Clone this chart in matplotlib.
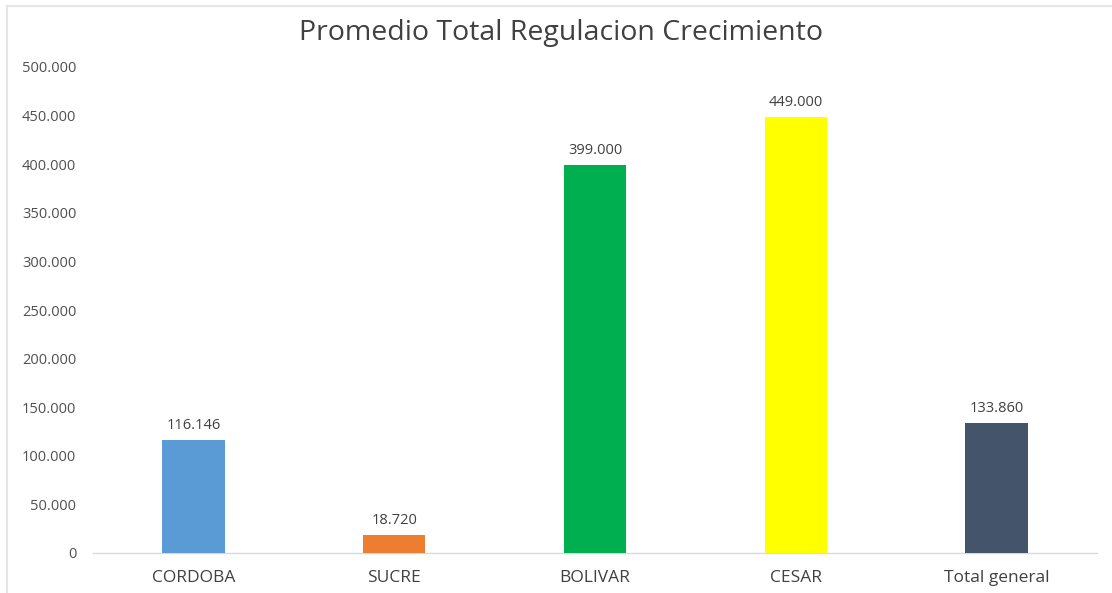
import matplotlib
matplotlib.use("Agg")
import matplotlib.pyplot as plt
from matplotlib.ticker import FuncFormatter
from matplotlib.lines import Line2D

categories = ["CORDOBA", "SUCRE", "BOLIVAR", "CESAR", "Total general"]
values = [116146, 18720, 399000, 449000, 133860]
labels = ["116.146", "18.720", "399.000", "449.000", "133.860"]
colors = ["#5B9BD5", "#ED7D31", "#00B050", "#FFFF00", "#44546A"]
yticks = list(range(0, 500001, 50000))

plt.rcParams['font.family'] = ['Open Sans', 'DejaVu Sans']

W, H = 1112, 593
fig = plt.figure(figsize=(W / 100, H / 100), dpi=100)
ax = fig.add_axes([93 / W, 1 - 553 / H, (1097 - 93) / W, (553 - 67) / H])

x = list(range(len(categories)))
ax.bar(x, values, width=0.31, color=colors, zorder=3)
ax.set_xlim(-0.5, len(categories) - 0.5)
ax.set_ylim(0, 500000)
ax.set_yticks(yticks)
ax.yaxis.set_major_formatter(FuncFormatter(lambda v, p: "0" if v == 0 else f"{int(v):,}".replace(",", ".")))
ax.set_xticks(x)
ax.set_xticklabels(categories, fontsize=12.5, color="#404040")
ax.tick_params(axis='y', length=0, pad=12, labelsize=10.5, labelcolor="#505050")
ax.tick_params(axis='x', length=0, pad=12)

for s in ["top", "right", "left"]:
    ax.spines[s].set_visible(False)
ax.spines["bottom"].set_color("#D9D9D9")
ax.spines["bottom"].set_linewidth(1)

for xi, v, lab in zip(x, values, labels):
    ax.annotate(lab, (xi, v), xytext=(0, 5), textcoords="offset points",
                ha="center", va="bottom", fontsize=10.5, color="#404040")

fig.text(561 / W, 1 - 33 / H, "Promedio Total Regulacion Crecimiento",
         ha="center", va="center", fontsize=20.5, color="#404040")

# light outer frame (top and left edges visible)
fig.add_artist(Line2D([7 / W, 1], [1 - 6 / H, 1 - 6 / H], transform=fig.transFigure,
                      color="#E6E6E6", linewidth=1.5))
fig.add_artist(Line2D([7 / W, 7 / W], [0, 1 - 6 / H], transform=fig.transFigure,
                      color="#E6E6E6", linewidth=1.5))

fig.savefig("out.png", dpi=100, facecolor="white")
